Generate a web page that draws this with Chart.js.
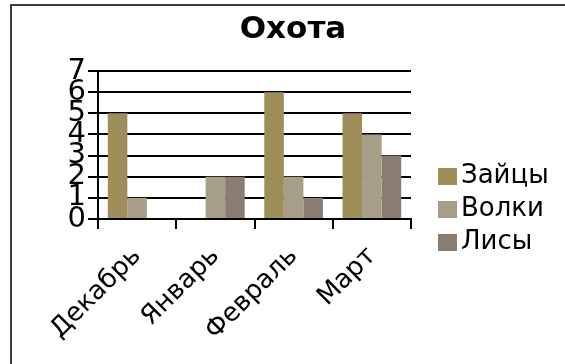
<!DOCTYPE html>
<html>
<head>
<meta charset="utf-8">
<script src="https://cdn.jsdelivr.net/npm/chart.js@4"></script>
<style>
html,body{margin:0;padding:0;background:#fff;}
canvas{display:block;}
</style>
</head>
<body>
<canvas id="c" width="565" height="364"></canvas>
<script>
const categories = ['Декабрь', 'Январь', 'Февраль', 'Март'];
const seriesNames = ['Зайцы', 'Волки', 'Лисы'];
const hares = [5, 0, 6, 5];
const wolves = [1, 2, 2, 4];
const foxes = [0, 2, 1, 3];
const yTickValues = [0, 1, 2, 3, 4, 5, 6, 7];
const colors = ['#9e8f5a', '#a69e87', '#8a7c70'];
const titleText = 'Охота';

const FONT = '"DejaVu Sans", Verdana, sans-serif';
const legendFontSize = 26;
const legendPad = 7;
const legendBoxW = 30;

// measure legend texts to size the layout
const mctx = document.createElement('canvas').getContext('2d');
mctx.font = legendFontSize + 'px ' + FONT;
const maxW = Math.max(...seriesNames.map(s => mctx.measureText(s).width));
const legendWidth = legendPad + legendBoxW + legendFontSize / 2 + maxW + 10;
const padR = 154 - legendWidth;
const padL = 21 + padR;

function swatch(color) {
  const cv = document.createElement('canvas');
  cv.width = 48; cv.height = 17;
  const g = cv.getContext('2d');
  g.fillStyle = color;
  g.fillRect(29, 0, 19, 17);
  return cv;
}
const swatches = colors.map(swatch);

const framePlugin = {
  id: 'frame',
  beforeDraw(chart) {
    const ctx = chart.ctx;
    ctx.save();
    ctx.fillStyle = '#fff';
    ctx.fillRect(0, 0, chart.width, chart.height);
    ctx.strokeStyle = '#000';
    ctx.lineWidth = 1.5;
    ctx.beginPath();
    ctx.moveTo(11, chart.height + 5);
    ctx.lineTo(11, 5);
    ctx.lineTo(chart.width + 5, 5);
    ctx.stroke();
    ctx.restore();
  }
};

new Chart(document.getElementById('c'), {
  type: 'bar',
  data: {
    labels: categories,
    datasets: [
      { label: seriesNames[0], data: hares, backgroundColor: colors[0] },
      { label: seriesNames[1], data: wolves, backgroundColor: colors[1] },
      { label: seriesNames[2], data: foxes, backgroundColor: colors[2] }
    ]
  },
  options: {
    responsive: false,
    animation: false,
    devicePixelRatio: 1,
    datasets: { bar: { categoryPercentage: 0.75, barPercentage: 1.0 } },
    layout: { padding: { left: padL, right: padR, top: 0, bottom: 0 } },
    plugins: {
      title: {
        display: true,
        text: titleText,
        color: '#000',
        font: { family: FONT, size: 31, weight: 'bold', lineHeight: 1.2 },
        padding: { top: 11, bottom: 22.8 }
      },
      legend: {
        display: true,
        position: 'right',
        align: 'center',
        maxWidth: 400,
        title: { display: true, text: '', font: { size: 10, lineHeight: 1.2 }, padding: { top: 43, bottom: 0 } },
        labels: {
          usePointStyle: true,
          pointStyleWidth: legendBoxW,
          padding: legendPad,
          color: '#000',
          font: { family: FONT, size: legendFontSize },
          generateLabels(chart) {
            const base = Chart.defaults.plugins.legend.labels.generateLabels(chart);
            return base.map((l, i) => Object.assign(l, { pointStyle: swatches[i], lineWidth: 0 }));
          }
        }
      },
      tooltip: { enabled: false }
    },
    scales: {
      x: {
        offset: true,
        grid: { display: true, drawOnChartArea: false, drawTicks: true, tickLength: 10, color: '#000', lineWidth: 2, offset: true },
        border: { display: true, color: '#000', width: 2 },
        ticks: { color: '#000', font: { family: FONT, size: 26 }, minRotation: 45, maxRotation: 45, padding: 12, autoSkip: false },
        afterFit(scale) { scale.height = 145; }
      },
      y: {
        min: 0,
        max: 7,
        afterBuildTicks(scale) { scale.ticks = yTickValues.map(v => ({ value: v })); },
        grid: { color: '#000', lineWidth: 2, drawTicks: true, tickLength: 10 },
        border: { display: true, color: '#000', width: 2 },
        ticks: { color: '#000', font: { family: FONT, size: 29, lineHeight: 0.75 }, padding: 2, autoSkip: false, stepSize: 1 },
        afterFit(scale) { scale.width = 98 - padL; }
      }
    }
  },
  plugins: [framePlugin]
});
</script>
</body>
</html>
